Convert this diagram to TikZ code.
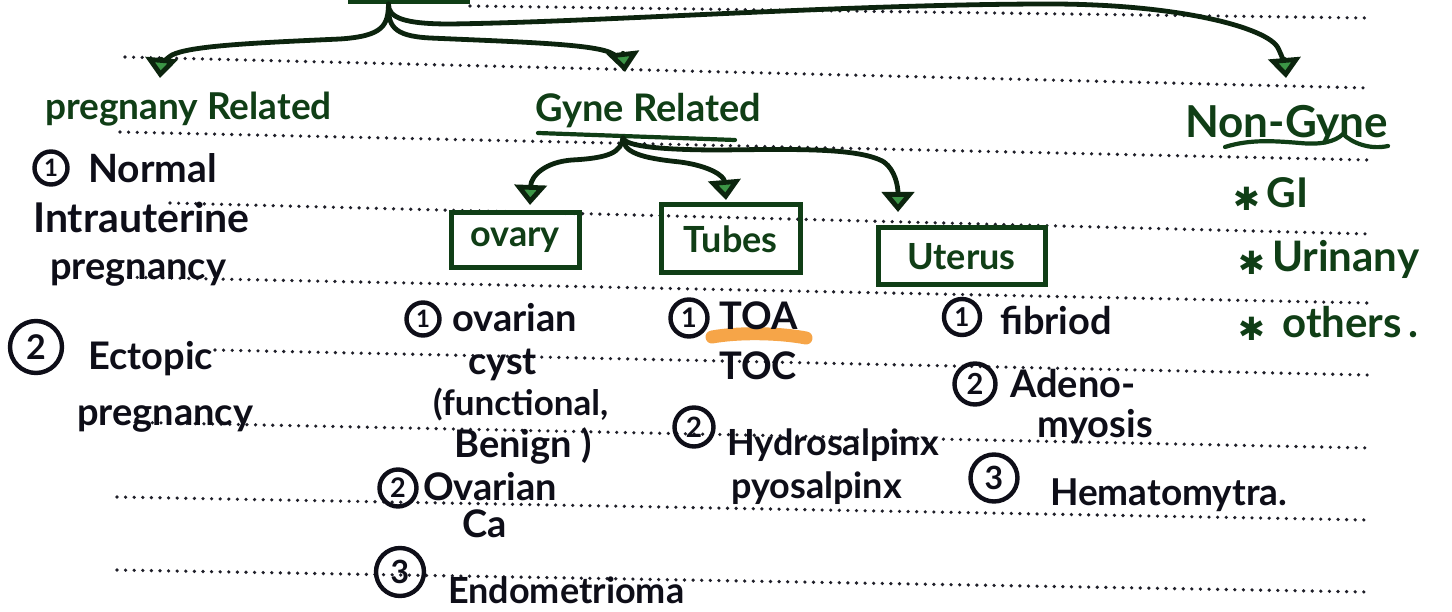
\documentclass[tikz,border=0pt]{standalone}
\usepackage{fontspec}
\setmainfont{Lato}
\newfontfamily\symfont{DejaVu Sans}
\usetikzlibrary{arrows.meta}

\definecolor{ink}{RGB}{14,14,24}
\definecolor{pen}{RGB}{16,62,22}
\definecolor{pendark}{RGB}{12,36,14}
\definecolor{penfill}{RGB}{60,150,70}
\definecolor{rulegray}{RGB}{30,30,40}
\definecolor{marker}{RGB}{245,150,40}

\newcommand{\bulletstar}{{\symfont\raisebox{-0.05em}{\fontsize{32}{32}\selectfont ✱}}}

\tikzset{
  ruling/.style={draw=rulegray, line width=3.6pt, line cap=round, dash pattern=on 0pt off 8.6pt},
  fs/.style={font=\bfseries\fontsize{#1}{#1}\selectfont},
  txt/.style={inner sep=0pt, anchor=base west, text=ink, fs=38},
  gtxt/.style={txt, text=pen},
  num/.style={circle, draw=ink, line width=4.4pt, inner sep=0pt, text=ink, fs=26},
  arr/.style={draw=pendark, line width=4.8pt, line cap=round,
    -{Triangle[length=20pt,width=32pt,fill=penfill]}},
  organ/.style={draw=pen, line width=5pt, inner sep=0pt, text=pen, fs=36},
  penline/.style={draw=pen, line width=4.2pt, line cap=round},
}

\begin{document}
\begin{tikzpicture}[x=1pt,y=-1pt]
\useasboundingbox (0,0) rectangle (1452,612);
\clip (0,0) rectangle (1452,612);
\fill[white] (0,0) rectangle (1452,612);

% ruled lines of the notebook page
\draw[ruling] (470,6)   -- (1368,18);
\draw[ruling] (125,57)  -- (1368,88);
\draw[ruling] (120,132) -- (1368,160);
\draw[ruling] (170,203) -- (1368,234);
\draw[ruling] (120,277) -- (1368,303);
\draw[ruling] (215,350) -- (1368,375);
\draw[ruling] (118,422) -- (1368,448);
\draw[ruling] (117,497) -- (1368,520);
\draw[ruling] (117,570) -- (1368,592);

% top box, mostly above the page edge
\node[organ, minimum width=117pt, minimum height=60pt] (root) at (408.5,-28.5) {};

% three main categories
\node[gtxt, fs=37] (preg)  at (45,120)   {pregnany Related};
\node[gtxt, fs=38] (gyne)  at (535,122)  {Gyne Related};
\node[gtxt, fs=44] (nong)  at (1185,138) {Non-Gyne};
\draw[penline] (538,133) -- (735,140);
\draw[penline] (1225,147) .. controls (1250,139) and (1275,141) .. (1300,143)
  .. controls (1320,145) and (1335,142) .. (1343,134)
  .. controls (1352,143) and (1370,150) .. (1388,146);

\coordinate (tipP) at (160,78);
\coordinate (tipG) at (625,72);
\coordinate (tipN) at (1286,78);
\draw[arr] ([xshift=-20pt]root.south) .. controls (388,25) and (384,36) .. (340,39)
  .. controls (250,43) and (190,46) .. (172,55)
  .. controls (164,60) and (161,66) .. (tipP);
\draw[arr] ([xshift=-20pt]root.south) .. controls (388,25) and (392,36) .. (430,38)
  .. controls (520,42) and (598,44) .. (613,54)
  .. controls (620,58) and (624,63) .. (tipG);
\draw[arr] ([xshift=-20pt]root.south) .. controls (388,18) and (405,24) .. (450,24)
  .. controls (600,22) and (850,4) .. (1050,4)
  .. controls (1180,4) and (1268,28) .. (1278,48)
  .. controls (1282,56) and (1285,66) .. (tipN);

% non-gynaecological causes
\node[gtxt, fs=41] (gi)  at (1233,208) {\bulletstar\,GI};
\node[gtxt, fs=42] (uri) at (1238,272) {\bulletstar\,Urinany};
\node[gtxt, fs=42] (oth) at (1238,338) {\bulletstar\, others\,.};

% pregnancy related
\node[num, minimum size=33pt, fs=24] (n1) at (51,168) {1};
\node[txt, fs=39] (normal) at (88,183)  {Normal};
\node[txt, fs=41] (intra)  at (33,233)  {Intrauterine};
\node[txt] (preg1)  at (50,280)  {pregnancy};
\node[num, minimum size=52pt, fs=34] (n2) at (36,347) {2};
\node[txt] (ecto)   at (88,370)  {Ectopic};
\node[txt] (preg2)  at (77,425)  {pregnancy};

% gynaecological organs
\node[organ, minimum width=128pt, minimum height=55pt] (ovary)  at (515,240.5) {ovary};
\node[organ, minimum width=139pt, minimum height=68pt] (tubes)  at (730.5,239) {Tubes};
\node[organ, minimum width=167pt, minimum height=57pt] (uterus) at (961.5,256.5) {Uterus};

\coordinate (gfork) at (623,138);
\coordinate (tipO) at (530,205);
\coordinate (tipT) at (726,200);
\coordinate (tipU) at (898,212);
\draw[arr] (gfork) .. controls (621,152) and (610,158) .. (572,160)
  .. controls (545,162) and (531,176) .. (tipO);
\draw[arr] (gfork) .. controls (623,152) and (640,158) .. (680,162)
  .. controls (710,166) and (724,176) .. (tipT);
\draw[arr] (gfork) .. controls (625,146) and (660,150) .. (720,150)
  .. controls (800,149) and (860,148) .. (884,162)
  .. controls (895,170) and (898,186) .. (tipU);

% ovary
\node[num, minimum size=33pt, fs=24] (n3) at (423,319) {1};
\node[txt] (ovar)   at (452,332) {ovarian};
\node[txt] (cyst)   at (468,374) {cyst};
\node[txt, fs=35] (func)   at (433,415) {(functional,};
\node[txt] (benign) at (454,457) {Benign )};
\node[num, minimum size=37pt, fs=27] (n4) at (398,488) {2};
\node[txt] (ovca)   at (423,500) {Ovarian};
\node[txt] (ca)     at (462,537) {Ca};
\node[num, minimum size=48pt, fs=32] (n5) at (400,572) {3};
\node[txt, fs=36] (endo)   at (448,603) {Endometrioma};

% tubes
\draw[marker, line width=13pt, line cap=round, opacity=.85]
  (712,337) .. controls (740,332) and (780,333) .. (806,338);
\node[num, minimum size=37pt, fs=27] (n6) at (689,318) {1};
\node[txt] (toa)   at (719,330) {TOA};
\node[txt] (toc)   at (719,380) {TOC};
\node[num, minimum size=39pt, fs=28] (n7) at (694,427) {2};
\node[txt, fs=36] (hydro) at (727,455) {Hydrosalpinx};
\node[txt, fs=36] (pyo)   at (731,498) {pyosalpinx};

% uterus
\node[num, minimum size=36pt, fs=26] (n8) at (962,317) {1};
\node[txt] (fib)    at (1000,335) {fibriod};
\node[num, minimum size=41pt, fs=29] (n9) at (975,384) {2};
\node[txt] (adeno)  at (1010,398) {Adeno-};
\node[txt] (myo)    at (1037,438) {myosis};
\node[num, minimum size=47pt, fs=32] (n10) at (994,478) {3};
\node[txt, fs=37] (hemato) at (1050,505) {Hematomytra.};
\end{tikzpicture}
\end{document}
